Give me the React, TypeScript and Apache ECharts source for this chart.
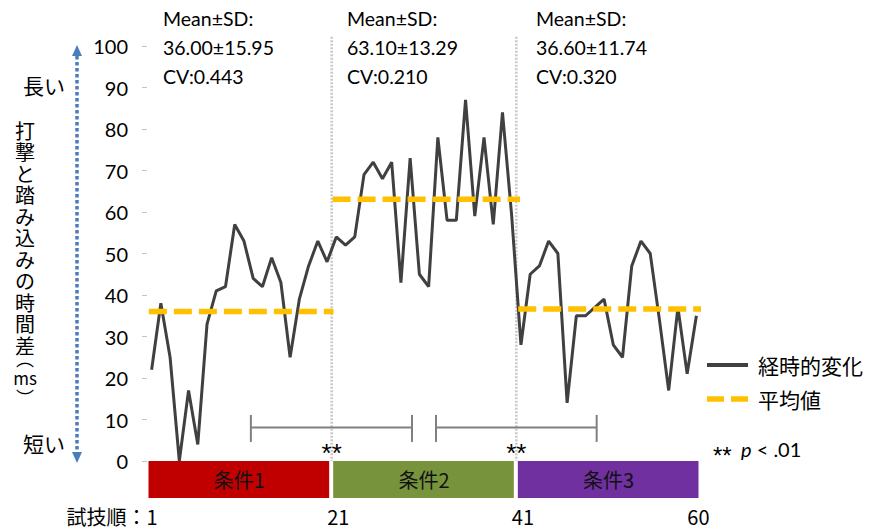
import { useEffect, useRef } from 'react';
import * as echarts from 'echarts';

// time difference (ms) per trial, trials 1..60
const trialValues: number[] = [
  22, 38, 25, 0, 17, 4, 33, 41, 42, 57, 53, 44, 42, 49, 43, 25, 39, 47, 53, 48,
  54, 52, 54, 69, 72, 68, 72, 43, 73, 45, 42, 78, 58, 58, 87, 59, 78, 57, 84, 59,
  28, 45, 47, 53, 50, 14, 35, 35, 37, 39, 28, 25, 47, 53, 50, 34, 17, 37, 21, 35,
];
const conditionNames = ['条件1', '条件2', '条件3'];
const conditionStart = [0.5, 20.5, 40.5];
const conditionEnd = [20.5, 40.5, 60.5];
const conditionColors = ['#C00000', '#77933C', '#7030A0'];
const meanValues = [36.0, 63.1, 36.6];
const sdValues = [15.95, 13.29, 11.74];
const cvValues = [0.443, 0.21, 0.32];
const meanLineStart = [0.7, 20.6, 40.7];
const meanLineEnd = [20.7, 40.9, 60.5];
const separators = [20.5, 40.5];
const bracketRanges = [
  [11.75, 29.2],
  [31.8, 49.2],
];
const xTickValues = [1, 21, 41, 60];
const xTickLabels = ['試技順：1', '21', '41', '60'];
const legendNames = ['経時的変化', '平均値'];
const yAxisTitle = '打撃と踏み込みの時間差';

const CJK = '"Noto Sans CJK JP", sans-serif';
const LAT = 'Lato, "Noto Sans", sans-serif';
const ARI = '"Liberation Sans", Arial, sans-serif';

export default function App() {
  const ref = useRef<HTMLDivElement>(null);
  useEffect(() => {
    if (!ref.current) return;
    const chart = echarts.init(ref.current, null, { renderer: 'svg' });
    const option: any = {
      animation: false,
      backgroundColor: '#ffffff',
      grid: [
        { left: 147, right: 172, top: 46, bottom: 68 },
        { left: 147, right: 172, top: 461, height: 37 },
      ],
      xAxis: [
        { type: 'value', gridIndex: 0, min: 0.5, max: 60.5, show: false },
        { type: 'value', gridIndex: 1, min: 0.5, max: 60.5, show: false },
      ],
      yAxis: [
        {
          type: 'value', gridIndex: 0, min: 0, max: 100, interval: 10,
          axisLine: { show: false },
          axisTick: { show: true, length: 5, lineStyle: { color: '#c4c4c4', width: 1 } },
          splitLine: { show: false },
          axisLabel: { margin: 19, fontSize: 20, fontFamily: LAT, color: '#000' },
        },
        { type: 'value', gridIndex: 1, min: 0, max: 1, show: false },
      ],
      series: [
        {
          type: 'custom', xAxisIndex: 0, yAxisIndex: 0, clip: false, z: 1,
          data: separators.map((s) => [s, 0]),
          renderItem: (_p: any, api: any) => {
            const x = api.value(0);
            const top = api.coord([x, 102.2]);
            const bottom = api.coord([x, 0]);
            const star = api.coord([x, 3.4]);
            return {
              type: 'group',
              children: [
                { type: 'line', shape: { x1: top[0], y1: top[1], x2: bottom[0], y2: bottom[1] },
                  style: { stroke: '#c8c8c8', lineWidth: 2.5, lineDash: [2, 1.5] } },
                { type: 'text', style: { text: '**', x: star[0], y: star[1] + 6, align: 'center', verticalAlign: 'middle',
                  textAlign: 'center', textVerticalAlign: 'middle', font: '26px ' + ARI, fill: '#000' } },
              ],
            };
          },
        },
        {
          type: 'custom', xAxisIndex: 0, yAxisIndex: 0, clip: false, z: 2,
          data: bracketRanges.map((r) => [r[0], r[1]]),
          renderItem: (_p: any, api: any) => {
            const x0 = api.value(0);
            const x1 = api.value(1);
            const a = api.coord([x0, 8.1]);
            const b = api.coord([x1, 8.1]);
            const aT = api.coord([x0, 11.1]);
            const aB = api.coord([x0, 4.6]);
            const bT = api.coord([x1, 11.1]);
            const bB = api.coord([x1, 4.6]);
            const st = { stroke: '#808080', lineWidth: 2 };
            return {
              type: 'group',
              children: [
                { type: 'line', shape: { x1: a[0], y1: a[1], x2: b[0], y2: b[1] }, style: st },
                { type: 'line', shape: { x1: aT[0], y1: aT[1], x2: aB[0], y2: aB[1] }, style: st },
                { type: 'line', shape: { x1: bT[0], y1: bT[1], x2: bB[0], y2: bB[1] }, style: st },
              ],
            };
          },
        },
        {
          name: legendNames[0], type: 'line', xAxisIndex: 0, yAxisIndex: 0, z: 3,
          data: trialValues.map((v, i) => [i + 1, v]),
          symbol: 'none',
          lineStyle: { color: '#404040', width: 3 },
        },
        ...meanValues.map((m, i) => ({
          name: legendNames[1], type: 'line', xAxisIndex: 0, yAxisIndex: 0, z: 4,
          data: [[meanLineStart[i], m], [meanLineEnd[i], m]],
          symbol: 'none',
          lineStyle: { color: '#FFC000', width: 5.5, type: [18, 7], cap: 'butt' },
        })),
        {
          type: 'custom', xAxisIndex: 1, yAxisIndex: 1, clip: false, z: 2,
          data: conditionNames.map((_n, i) => [conditionStart[i], conditionEnd[i], i]),
          renderItem: (_p: any, api: any) => {
            const s = api.coord([api.value(0), 1]);
            const e = api.coord([api.value(1), 0]);
            const idx = api.value(2);
            return {
              type: 'group',
              children: [
                { type: 'rect', shape: { x: s[0] + 1.5, y: s[1], width: e[0] - s[0] - 4, height: e[1] - s[1] },
                  style: { fill: conditionColors[idx] } },
                { type: 'text', style: { text: conditionNames[idx], x: (s[0] + e[0]) / 2, y: (s[1] + e[1]) / 2,
                  align: 'center', verticalAlign: 'middle', textAlign: 'center', textVerticalAlign: 'middle',
                  font: '20px ' + CJK, fill: '#111', lineHeight: 22 } },
              ],
            };
          },
        },
      ],
    };
    chart.setOption(option);

    const px = (v: number) => chart.convertToPixel({ xAxisIndex: 1 }, v) as number;
    const textBase = (x: number, y: number, text: string, font: string, align = 'left', extra: any = {}) => ({
      type: 'text', x, y, z: 10,
      style: { text, font, fill: '#000', align, verticalAlign: 'middle', textAlign: align,
        textVerticalAlign: 'middle', ...extra },
    });
    const graphics: any[] = [];
    // stats annotations
    const statX = [163, 347, 536];
    meanValues.forEach((m, i) => {
      graphics.push({
        type: 'text', x: statX[i], y: 3.5, z: 10,
        style: {
          text: `Mean±SD:\n${m.toFixed(2)}±${sdValues[i].toFixed(2)}\nCV:${cvValues[i].toFixed(3)}`,
          font: '19.5px ' + LAT, fill: '#000', lineHeight: 29, align: 'left', verticalAlign: 'top',
          textAlign: 'left', textVerticalAlign: 'top',
        },
      });
    });
    // bottom tick labels
    xTickValues.forEach((v, i) => {
      const x = px(v);
      if (i === 0) graphics.push(textBase(x + 6, 516, xTickLabels[i], '20px ' + CJK, 'right', { lineHeight: 22 }));
      else graphics.push(textBase(x + 2, 516, xTickLabels[i], '20px ' + CJK, 'center', { lineHeight: 22 }));
    });
    // left arrow
    graphics.push({ type: 'line', shape: { x1: 77, y1: 56, x2: 77, y2: 452 },
      style: { stroke: '#4A7EBB', lineWidth: 3.5, lineDash: [3.5, 2.5] } });
    graphics.push({ type: 'polygon', shape: { points: [[72, 56], [82, 56], [77, 45]] }, style: { fill: '#4A7EBB' } });
    graphics.push({ type: 'polygon', shape: { points: [[72, 452], [82, 452], [77, 463]] }, style: { fill: '#4A7EBB' } });
    graphics.push(textBase(44, 85, '長い', '21px ' + CJK, 'center', { lineHeight: 22 }));
    graphics.push(textBase(44, 443, '短い', '21px ' + CJK, 'center', { lineHeight: 22 }));
    // vertical axis title (one multi-line text)
    graphics.push({
      type: 'text', x: 25, y: 119.25, z: 10,
      style: {
        text: yAxisTitle.split('').join('\n'), font: '20px ' + CJK, fill: '#000', lineHeight: 21.5,
        align: 'center', verticalAlign: 'top', textAlign: 'center', textVerticalAlign: 'top',
      },
    });
    graphics.push({
      type: 'text', x: 25, y: 348, z: 10,
      style: {
        text: '{p|︵}\n{m|ms}\n{p|︶}', font: '18px ' + CJK, fill: '#000', lineHeight: 19.5,
        align: 'center', verticalAlign: 'top', textAlign: 'center', textVerticalAlign: 'top',
        rich: {
          p: { fontSize: 18, fontFamily: CJK, lineHeight: 19.5, fill: '#000' },
          m: { fontSize: 17, fontFamily: CJK, lineHeight: 19.5, fill: '#000' },
        },
      },
    });
    // legend
    graphics.push({ type: 'line', shape: { x1: 707, y1: 365, x2: 748, y2: 365 }, style: { stroke: '#404040', lineWidth: 4 } });
    graphics.push(textBase(758, 365, legendNames[0], '21px ' + CJK, 'left', { lineHeight: 24 }));
    graphics.push({ type: 'line', shape: { x1: 707, y1: 399, x2: 748, y2: 399 },
      style: { stroke: '#FFC000', lineWidth: 5.5, lineDash: [17, 7] } });
    graphics.push(textBase(758, 399, legendNames[1], '21px ' + CJK, 'left', { lineHeight: 24 }));
    graphics.push(textBase(713, 455, '**', '24px ' + ARI, 'left', { lineHeight: 20 }));
    graphics.push({
      type: 'text', x: 741, y: 449, z: 10,
      style: {
        text: '{b|p}{a| < .01}', font: '20px ' + LAT, fill: '#000', align: 'left', verticalAlign: 'middle',
        textAlign: 'left', textVerticalAlign: 'middle',
        rich: { a: { fontSize: 20, fontFamily: LAT, fill: '#000' }, b: { fontSize: 20, fontFamily: LAT, fontStyle: 'italic', fill: '#000' } },
      },
    });
    chart.setOption({ graphic: graphics });
    return () => chart.dispose();
  }, []);
  return <div ref={ref} style={{ position: 'fixed', left: 0, top: 0, width: 873, height: 529 }} />;
}
